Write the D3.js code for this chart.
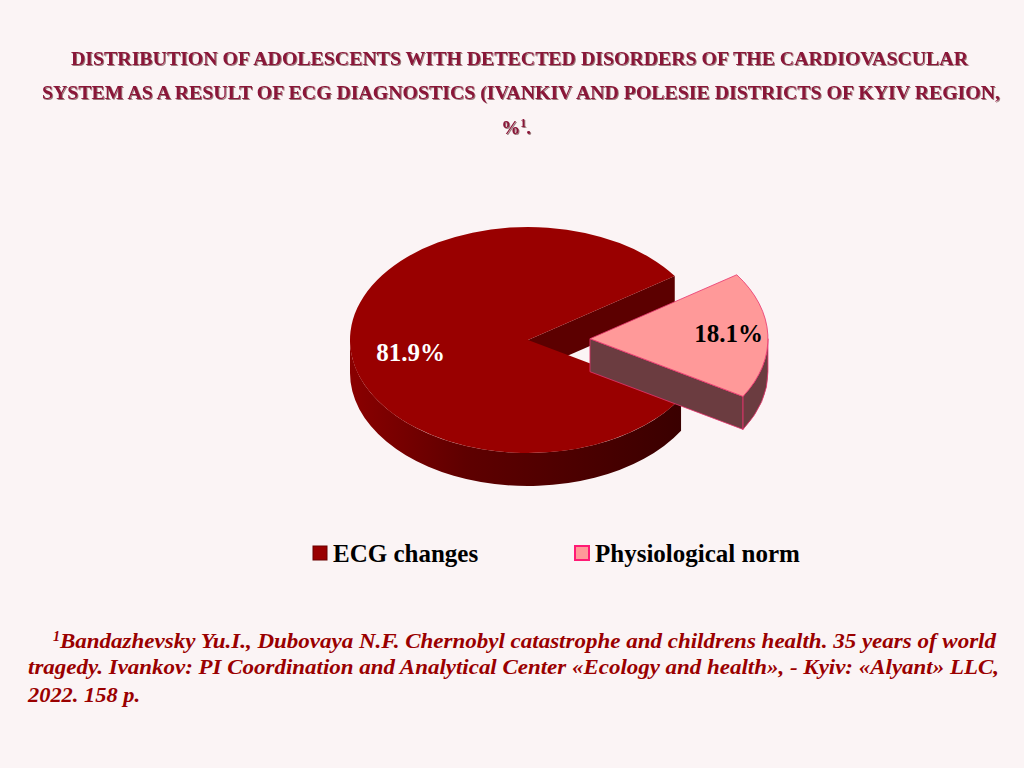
<!DOCTYPE html>
<html lang="en">
<head>
<meta charset="UTF-8">
<title>ECG diagnostics pie</title>
<script src="https://d3js.org/d3.v7.min.js"></script>
<style>
  body { margin: 0; padding: 0; background: #fbf4f5; }
  svg { display: block; }
  text { font-family: "Liberation Serif", "Times New Roman", Times, serif; }
  .title { font-weight: bold; font-size: 19px; fill: #8a1538; }
  .note { font-style: italic; font-weight: bold; font-size: 20px; fill: #9a0000; }
  .lbl { font-weight: bold; font-size: 25px; }
  .leg { font-weight: bold; font-size: 25px; fill: #000; }
</style>
</head>
<body>
<script>
// data
var categories = ["ECG changes", "Physiological norm"];
var values = [81.9, 18.1];
var labels = ["81.9%", "18.1%"];
var titleLines = [
  "DISTRIBUTION OF ADOLESCENTS WITH DETECTED DISORDERS OF THE CARDIOVASCULAR",
  "SYSTEM AS A RESULT OF ECG DIAGNOSTICS (IVANKIV AND POLESIE DISTRICTS OF KYIV REGION,"
];
var noteLines = [
  "Bandazhevsky Yu.I., Dubovaya N.F. Chernobyl catastrophe and childrens health. 35 years of world",
  "tragedy. Ivankov: PI Coordination and Analytical Center «Ecology and health», - Kyiv: «Alyant» LLC,",
  "2022. 158 p."
];

var W = 1024, H = 768;
var svg = d3.select("body").append("svg").attr("width", W).attr("height", H);
svg.append("rect").attr("width", W).attr("height", H).attr("fill", "#fbf4f5");

var defs = svg.append("defs");
var f = defs.append("filter").attr("id", "shadow").attr("x", "-5%").attr("y", "-20%").attr("width", "110%").attr("height", "140%");
f.append("feDropShadow").attr("dx", 1).attr("dy", 1).attr("stdDeviation", 0.7)
  .attr("flood-color", "#4a0818").attr("flood-opacity", 0.55);

var wallGrad = defs.append("linearGradient").attr("id", "wall")
  .attr("gradientUnits", "userSpaceOnUse").attr("x1", 350).attr("x2", 682).attr("y1", 0).attr("y2", 0);
wallGrad.append("stop").attr("offset", "0%").attr("stop-color", "#8a0000");
wallGrad.append("stop").attr("offset", "35%").attr("stop-color", "#5e0000");
wallGrad.append("stop").attr("offset", "100%").attr("stop-color", "#3a0000");

// title
var tl = svg.append("g").attr("filter", "url(#shadow)");
tl.append("text").attr("class", "title").attr("x", 71).attr("y", 65)
  .attr("textLength", 897).attr("lengthAdjust", "spacingAndGlyphs").text(titleLines[0]);
tl.append("text").attr("class", "title").attr("x", 42).attr("y", 99)
  .attr("textLength", 958).attr("lengthAdjust", "spacingAndGlyphs").text(titleLines[1]);
var t3 = tl.append("text").attr("class", "title").attr("x", 516).attr("y", 134).attr("text-anchor", "middle");
t3.append("tspan").text("%");
t3.append("tspan").attr("font-size", "12px").attr("dy", -7).text("1");
t3.append("tspan").attr("dy", 7).text(".");

// 3D pie
var cx = 528, cy = 340, rx = 178, ry = 113, depth = 33;
var a0 = 120.7 * Math.PI / 180;
var pie = d3.pie().sort(null).startAngle(a0).endAngle(a0 + 2 * Math.PI);
var arcs = pie(values);
var explode = [0, 62];
var topFill = ["#990000", "#ff9999"];
var faceFill = ["#5c0000", "#6b3c40"];
var wallFill = ["url(#wall)", "#6b3c40"];
var strokeCol = ["none", "#e8336d"];
var labelK = [0.66, 0.78];
var labelCol = ["#fff", "#000"];

function pt(ox, oy, t, k) {
  k = k == null ? 1 : k;
  return [ox + rx * k * Math.sin(t), oy - ry * k * Math.cos(t)];
}

var pieG = svg.append("g");
arcs.forEach(function(d, i) {
  var mid = (d.startAngle + d.endAngle) / 2;
  var ox = cx + explode[i] * Math.sin(mid);
  var oy = cy - explode[i] * (ry / rx) * Math.cos(mid);
  var g = pieG.append("g");
  var s = d.startAngle, e = d.endAngle;

  // radial faces
  [[s, -1], [e, 1]].forEach(function(p) {
    if (p[1] * Math.sin(p[0]) > 0) {
      var r = pt(ox, oy, p[0]);
      g.append("path")
        .attr("d", "M" + ox + "," + oy + "L" + r[0] + "," + r[1] + "L" + r[0] + "," + (r[1] + depth) +
          "L" + ox + "," + (oy + depth) + "Z")
        .attr("fill", faceFill[i]).attr("stroke", strokeCol[i]).attr("stroke-width", 0.8);
    }
  });

  // outer wall (front half only)
  for (var k = -1; k <= 2; k++) {
    var lo = Math.max(s, Math.PI / 2 + 2 * Math.PI * k);
    var hi = Math.min(e, 3 * Math.PI / 2 + 2 * Math.PI * k);
    if (hi > lo) {
      var p1 = pt(ox, oy, lo), p2 = pt(ox, oy, hi);
      g.append("path")
        .attr("d", "M" + p1[0] + "," + p1[1] +
          "A" + rx + "," + ry + " 0 0,1 " + p2[0] + "," + p2[1] +
          "L" + p2[0] + "," + (p2[1] + depth) +
          "A" + rx + "," + ry + " 0 0,0 " + p1[0] + "," + (p1[1] + depth) + "Z")
        .attr("fill", wallFill[i]).attr("stroke", strokeCol[i]).attr("stroke-width", 0.8);
    }
  }

  // top face
  var ps = pt(ox, oy, s), pe = pt(ox, oy, e);
  var large = (e - s) > Math.PI ? 1 : 0;
  g.append("path")
    .attr("d", "M" + ox + "," + oy + "L" + ps[0] + "," + ps[1] +
      "A" + rx + "," + ry + " 0 " + large + ",1 " + pe[0] + "," + pe[1] + "Z")
    .attr("fill", topFill[i]).attr("stroke", strokeCol[i]).attr("stroke-width", 0.8);

  var lp = pt(ox, oy, mid, labelK[i]);
  g.append("text").attr("class", "lbl")
    .attr("x", lp[0]).attr("y", lp[1] + (i === 0 ? 10 : -2))
    .attr("text-anchor", "middle").attr("dominant-baseline", "central")
    .attr("fill", labelCol[i]).text(labels[i]);
});

// legend
var legX = [313, 575];
var legSq = [{f: "#990000", s: "#6a0000", w: 1}, {f: "#ff9999", s: "#ff1a75", w: 2}];
var leg = svg.append("g");
categories.forEach(function(c, i) {
  leg.append("rect").attr("x", legX[i]).attr("y", 546).attr("width", 14).attr("height", 14)
    .attr("fill", legSq[i].f).attr("stroke", legSq[i].s).attr("stroke-width", legSq[i].w);
  leg.append("text").attr("class", "leg").attr("x", legX[i] + 20).attr("y", 562).text(c);
});

// footnote
var n1 = svg.append("text").attr("class", "note").attr("x", 53).attr("y", 648);
n1.append("tspan").attr("font-size", "14px").attr("dy", -7).text("1");
n1.append("tspan").attr("dy", 7).attr("textLength", 936).attr("lengthAdjust", "spacingAndGlyphs").text(noteLines[0]);
svg.append("text").attr("class", "note").attr("x", 28).attr("y", 674)
  .attr("textLength", 971).attr("lengthAdjust", "spacingAndGlyphs").text(noteLines[1]);
svg.append("text").attr("class", "note").attr("x", 28).attr("y", 702)
  .attr("textLength", 112).attr("lengthAdjust", "spacingAndGlyphs").text(noteLines[2]);
</script>
</body>
</html>
